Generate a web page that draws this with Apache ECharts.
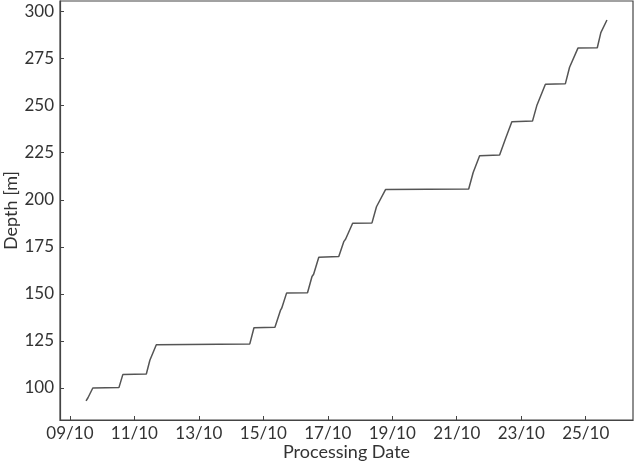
<!DOCTYPE html>
<html lang="en">
<head>
    <meta charset="UTF-8">
    <title>Depth vs processing date</title>
    <style>
        html, body { margin: 0; padding: 0; background: #fff; }
    </style>
</head>
<body>
<div id="chart" style="width: 634px;height: 463px;"></div>
<script src="https://cdn.jsdelivr.net/npm/echarts@6/dist/echarts.min.js"></script>
<script>
    // processing time stamps and depth readings
    var times = [
        '2019-10-09 12:00', '2019-10-09 13:26', '2019-10-09 14:53', '2019-10-09 17:02',
        '2019-10-10 12:29', '2019-10-10 15:22',
        '2019-10-11 08:53', '2019-10-11 11:31', '2019-10-11 12:29', '2019-10-11 16:19',
        '2019-10-14 13:55', '2019-10-14 17:02',
        '2019-10-15 08:38', '2019-10-15 12:43', '2019-10-15 13:41', '2019-10-15 17:17',
        '2019-10-16 08:53', '2019-10-16 12:14', '2019-10-16 13:26', '2019-10-16 17:17',
        '2019-10-17 08:10', '2019-10-17 12:00', '2019-10-17 13:12', '2019-10-17 18:29',
        '2019-10-18 08:53', '2019-10-18 12:14', '2019-10-18 13:41', '2019-10-18 18:58',
        '2019-10-21 08:53', '2019-10-21 12:14', '2019-10-21 13:12', '2019-10-21 17:02',
        '2019-10-22 07:55', '2019-10-22 12:29', '2019-10-22 13:41', '2019-10-22 17:02',
        '2019-10-23 08:24', '2019-10-23 11:46', '2019-10-23 12:58', '2019-10-23 18:00',
        '2019-10-24 08:53', '2019-10-24 12:00', '2019-10-24 13:12', '2019-10-24 18:14',
        '2019-10-25 08:38', '2019-10-25 11:17', '2019-10-25 12:29', '2019-10-25 15:50'
    ];
    var depths = [
        93.1, 94.8, 95.2, 100.0,
        100.2, 107.1,
        107.4, 114.7, 115.5, 123.0,
        123.4, 132.0,
        132.3, 141.2, 142.4, 150.4,
        150.6, 159.2, 160.4, 169.5,
        169.8, 177.9, 179.0, 187.5,
        187.7, 196.3, 197.0, 205.4,
        205.7, 214.5, 215.5, 223.4,
        223.8, 232.8, 233.8, 241.4,
        241.8, 250.4, 251.3, 261.4,
        261.7, 270.4, 271.3, 280.6,
        280.8, 288.8, 289.8, 295.5
    ];
    var tickDates = ['2019-10-09', '2019-10-11', '2019-10-13', '2019-10-15',
        '2019-10-17', '2019-10-19', '2019-10-21', '2019-10-23', '2019-10-25'];
    var yTicks = [100, 125, 150, 175, 200, 225, 250, 275, 300];

    function parseLocal (s) {
        var p = s.split(/[- :]/);
        return new Date(+p[0], +p[1] - 1, +p[2], +(p[3] || 0), +(p[4] || 0)).getTime();
    }

    function pad (n) {
        return (n < 10 ? '0' : '') + n;
    }

    var seriesData = [];
    for (var i = 0; i < times.length; i++) {
        seriesData.push([parseLocal(times[i]), depths[i]]);
    }
    var tickValues = tickDates.map(parseLocal);

    // 5% margins like the original plot
    var t0 = seriesData[0][0], t1 = seriesData[seriesData.length - 1][0];
    var xMin = t0 - (t1 - t0) * 0.05, xMax = t1 + (t1 - t0) * 0.05;
    var d0 = Math.min.apply(null, depths), d1 = Math.max.apply(null, depths);
    var yMin = d0 - (d1 - d0) * 0.05, yMax = d1 + (d1 - d0) * 0.05;

    var textColor = '#333';
    var frameColor = '#444';
    var font = 'Lato';

    var chart = echarts.init(document.getElementById('chart'));
    chart.setOption({
        animation: false,
        backgroundColor: '#fff',
        grid: {
            left: 60,
            right: 1,
            top: 1,
            bottom: 43,
            containLabel: false,
            outerBoundsMode: 'none',
            show: true,
            borderColor: frameColor,
            borderWidth: 1.2,
            backgroundColor: 'transparent'
        },
        xAxis: {
            type: 'value',
            min: xMin,
            max: xMax,
            name: 'Processing Date',
            nameLocation: 'middle',
            nameGap: 23,
            nameMoveOverlap: false,
            nameTextStyle: {color: textColor, fontSize: 18, fontFamily: font},
            axisLine: {lineStyle: {color: frameColor, width: 1.2}},
            axisTick: {inside: true, length: 4, customValues: tickValues, lineStyle: {color: frameColor}},
            axisLabel: {
                customValues: tickValues,
                margin: 5,
                color: textColor,
                fontSize: 17,
                fontFamily: font,
                formatter: function (v) {
                    var d = new Date(v);
                    return pad(d.getDate()) + '/' + pad(d.getMonth() + 1);
                }
            },
            splitLine: {show: false}
        },
        yAxis: {
            type: 'value',
            min: yMin,
            max: yMax,
            name: 'Depth [m]',
            nameLocation: 'middle',
            nameGap: 40,
            nameMoveOverlap: false,
            nameTextStyle: {color: textColor, fontSize: 18, fontFamily: font},
            axisLine: {show: true, lineStyle: {color: frameColor, width: 1.2}},
            axisTick: {inside: true, length: 4, customValues: yTicks, lineStyle: {color: frameColor}},
            axisLabel: {
                customValues: yTicks,
                margin: 6,
                color: textColor,
                fontSize: 17,
                fontFamily: font
            },
            splitLine: {show: false}
        },
        series: [{
            type: 'line',
            data: seriesData,
            showSymbol: false,
            lineStyle: {color: '#555', width: 1.5},
            silent: true
        }]
    });
</script>
</body>
</html>
